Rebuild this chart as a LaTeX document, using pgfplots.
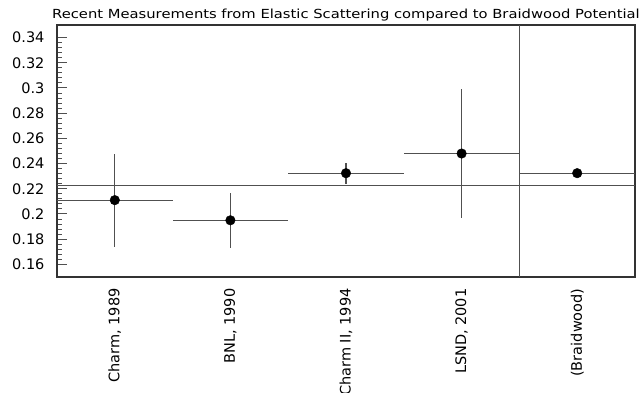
\documentclass[border=0pt]{standalone}
\usepackage{fontspec}
\setmainfont{DejaVu Sans}
\newfontfamily\titlefont[FakeStretch=1.18]{DejaVu Sans}
\usepackage{pgfplots}
\pgfplotsset{compat=1.18}
\usepackage{pgfplotstable}
\pgfplotstableread{
x y ex ey
1 0.211 0.5 0.037
2 0.195 0.5 0.022
3 0.2324 0.5 0.0083
4 0.248 0.5 0.051
5 0.2324 0.5 0
}\meas
\definecolor{lc}{HTML}{505050}
\begin{document}
\begin{tikzpicture}
\begin{axis}[
  at={(0,0)}, anchor=south west,
  scale only axis,
  width=578pt, height=252pt,
  xmin=0.5, xmax=5.5, ymin=0.15, ymax=0.35,
  axis line style={draw=black!80, line width=1.1pt},
  /pgf/number format/assume math mode=true,
  ytick={0.16,0.18,...,0.345},
  yticklabel style={font=\fontsize{14.5}{16}\selectfont, xshift=-9pt, /pgf/number format/fixed, /pgf/number format/precision=2},
  minor y tick num=4,
  ytick pos=left,
  major tick length=10pt,
  minor tick length=5pt,
  tick style={draw=lc, line width=1pt},
  xtick={1,2,3,4,5},
  xticklabels={{Charm, 1989},{BNL, 1990},{Charm II, 1994},{LSND, 2001},{(Braidwood)}},
  xtick pos=bottom,
  x tick style={draw=none},
  xticklabel shift=8pt,
  xticklabel style={rotate=90, anchor=east, font=\fontsize{14.5}{16}\selectfont},
  extra x ticks={1.5,2.5,3.5},
  extra x tick labels={},
  extra x tick style={tick style={draw=lc, line width=1pt}},
  title={Recent Measurements from Elastic Scattering compared to Braidwood Potential},
  title style={font=\titlefont\fontsize{12.5}{14}\selectfont, at={(0.5,1)}, anchor=base, yshift=0pt, inner sep=0pt},
]
\addplot[draw=lc, line width=1.1pt, forget plot] coordinates {(0.5,0.2227) (5.5,0.2227)};
\addplot[draw=lc, line width=1.1pt, forget plot] coordinates {(4.5,0.15) (4.5,0.35)};
\addplot[only marks, mark=*, mark size=4.8pt, mark options={fill=black, draw=black},
  error bars/.cd, x dir=both, x explicit, y dir=both, y explicit,
  error mark=none, error bar style={draw=lc, line width=1.1pt}]
  table[x=x, y=y, x error=ex, y error=ey] {\meas};
\end{axis}
\pgfresetboundingbox
\path[use as bounding box] (-57pt,-116pt) rectangle (585pt,277pt);
\end{tikzpicture}
\end{document}
